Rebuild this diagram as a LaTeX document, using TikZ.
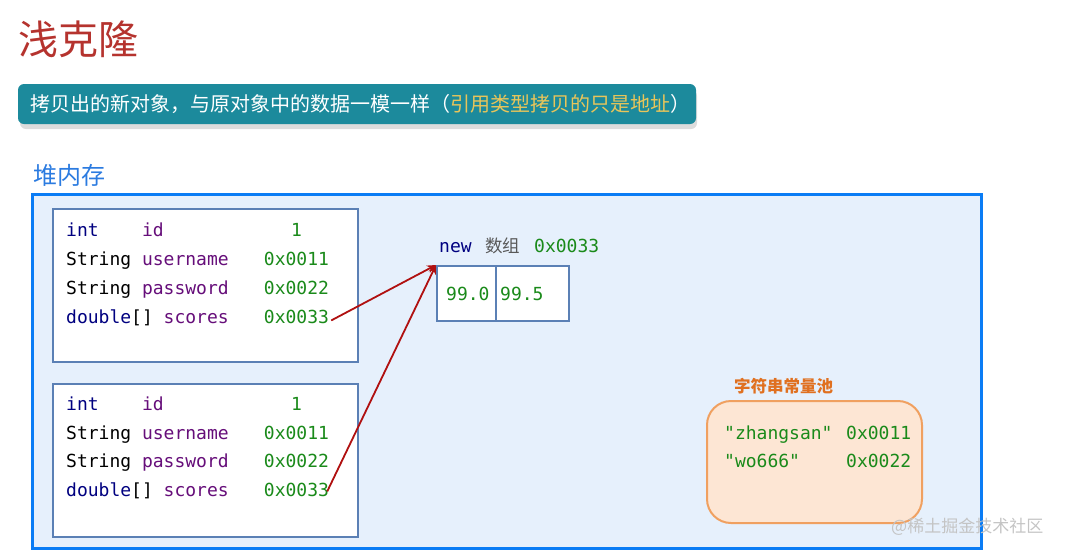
\documentclass[tikz,border=0pt]{standalone}
\usepackage{fontspec}
\setmonofont{DejaVu Sans Mono}
\newfontfamily\cjk{Noto Sans CJK SC}
\usetikzlibrary{arrows.meta}
\definecolor{titlered}{HTML}{B5332E}
\definecolor{banner}{HTML}{1C8A9C}
\definecolor{bannershadow}{HTML}{DCDCDC}
\definecolor{bannerhl}{HTML}{E8C55A}
\definecolor{heapblue}{HTML}{0A7CF5}
\definecolor{heapfill}{HTML}{E6F0FC}
\definecolor{heaptext}{HTML}{2B7BE0}
\definecolor{objborder}{HTML}{5B80B5}
\definecolor{kwnavy}{HTML}{000080}
\definecolor{fieldpurple}{HTML}{660E7A}
\definecolor{valgreen}{HTML}{1A8A1A}
\definecolor{arrowred}{HTML}{B01010}
\definecolor{poolorange}{HTML}{E07020}
\definecolor{poolfill}{HTML}{FDE6D4}
\definecolor{poolborder}{HTML}{F0A060}
\definecolor{wmgray}{HTML}{C4C4C4}
\newcommand{\kwc}[1]{\textcolor{kwnavy}{#1}}
\newcommand{\fldc}[1]{\textcolor{fieldpurple}{#1}}
\begin{document}
\begin{tikzpicture}[x=1pt,y=-1pt,
  code/.style={inner sep=0pt,anchor=base west,font=\ttfamily\fontsize{18}{20}\selectfont},
  val/.style={code,text=valgreen,anchor=base},
  objbox/.style={draw=objborder,line width=2pt,fill=white,minimum width=305pt,minimum height=153pt,inner sep=0pt},
  cell/.style={draw=objborder,line width=2pt,fill=white,minimum height=55pt,inner sep=0pt},
  ref/.style={draw=arrowred,line width=1.8pt,-{Stealth[length=9pt,width=8pt]}}
]
\useasboundingbox (0,0) rectangle (1069,555);
% title
\node[inner sep=0pt,anchor=west,text=titlered,font=\cjk\fontsize{40}{42}\selectfont] (title) at (18,39) {浅克隆};
% banner
\fill[bannershadow,rounded corners=6pt] (20,90) rectangle (697,129);
\node[fill=banner,rounded corners=6pt,minimum width=678pt,minimum height=40pt,inner sep=0pt] (banner) at (357,104) {};
\node[inner sep=0pt,anchor=west,text=white,font=\cjk\fontsize{20}{22}\selectfont] (bannertext) at (30,104)
  {拷贝出的新对象，与原对象中的数据一模一样（\textcolor{bannerhl}{引用类型拷贝的只是地址}）};
% heap
\node[inner sep=0pt,anchor=west,text=heaptext,font=\cjk\fontsize{24}{26}\selectfont] (heaplabel) at (33,175) {堆内存};
\node[draw=heapblue,line width=3pt,fill=heapfill,minimum width=949pt,minimum height=354pt,inner sep=0pt] (heap) at (506.5,371) {};
% object 1
\node[objbox] (obj1) at (205.5,285.5) {};
\node[code] (r1) at (66,236) {\kwc{int}\ \ \ \ \fldc{id}};
\node[val] (c1) at (296.5,236) {1};
\node[code] (r2) at (66,265) {String \fldc{username}};
\node[val] (c2) at (296.5,265) {0x0011};
\node[code] (r3) at (66,294) {String \fldc{password}};
\node[val] (c3) at (296.5,294) {0x0022};
\node[code] (r4) at (66,323) {\kwc{double}[] \fldc{scores}};
\node[val] (c4) at (296.5,323) {0x0033};
% object 2
\node[objbox] (obj2) at (205.5,460) {};
\node[code] (q1) at (66,410) {\kwc{int}\ \ \ \ \fldc{id}};
\node[val] (f1) at (296.5,410) {1};
\node[code] (q2) at (66,439) {String \fldc{username}};
\node[val] (f2) at (296.5,439) {0x0011};
\node[code] (q3) at (66,467) {String \fldc{password}};
\node[val] (f3) at (296.5,467) {0x0022};
\node[code] (q4) at (66,496) {\kwc{double}[] \fldc{scores}};
\node[val] (f4) at (296.5,496) {0x0033};
% array
\node[code,text=kwnavy] (newkw) at (439,252) {new};
\node[code,text=black!65,font=\cjk\fontsize{17.5}{20}\selectfont] (arrlabel) at (485,252) {数组};
\node[code,text=valgreen] (arraddr) at (534,252) {0x0033};
\node[cell,minimum width=59pt] (arr0) at (466.5,293.5) {};
\node[cell,minimum width=73pt] (arr1) at (532.5,293.5) {};
\node[code,text=valgreen] (v0) at (446,300) {99.0};
\node[code,text=valgreen] (v1) at (500,300) {99.5};
% references
\coordinate (src1) at ([xshift=2pt,yshift=-4pt]c4.east);
\coordinate (src2) at ([xshift=-2pt,yshift=-2pt]f4.east);
\draw[ref] (src1) -- (arr0.north west);
\draw[ref] (src2) -- (arr0.north west);
% string pool
\node[inner sep=0pt,anchor=west,text=poolorange,font=\cjk\bfseries\fontsize{16.5}{18}\selectfont] (poollabel) at (734,386) {字符串常量池};
\node[draw=poolborder,line width=2pt,fill=poolfill,rounded corners=24pt,minimum width=215pt,minimum height=122pt,inner sep=0pt] (pool) at (814.5,462) {};
\node[code,text=valgreen] (s1) at (724,439) {"zhangsan"};
\node[code,text=valgreen] (s2) at (846,439) {0x0011};
\node[code,text=valgreen] (s3) at (724,467) {"wo666"};
\node[code,text=valgreen] (s4) at (846,467) {0x0022};
% watermark
\node[inner sep=0pt,anchor=west,text=wmgray,font=\cjk\fontsize{17}{19}\selectfont] (wm) at (891,527) {@稀土掘金技术社区};
\end{tikzpicture}
\end{document}
